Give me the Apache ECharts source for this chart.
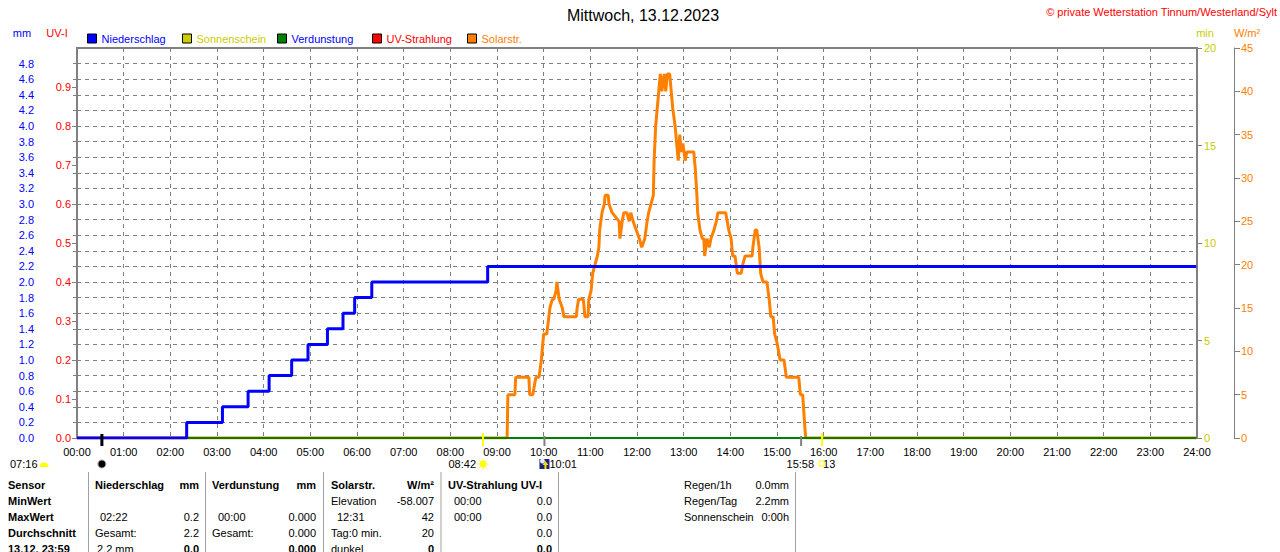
<!DOCTYPE html>
<html lang="de">
<head>
<meta charset="UTF-8">
<title>Wetterstation Tinnum - 13.12.2023</title>
<style>
  html, body { margin: 0; padding: 0; background: #fff; }
  #main { width: 1280px; height: 552px; }
</style>
</head>
<body>
<div id="main"></div>
<script src="https://cdn.jsdelivr.net/npm/echarts@6/dist/echarts.min.js"></script>
<script>
// Niederschlag (Summe, mm) - Zeitpunkte der Stufen
var rainTimes = ['00:00', '02:21', '03:07', '03:40', '04:07', '04:36', '04:57', '05:22', '05:42', '05:57', '06:19', '08:48', '23:59']
var rainValues = [0, 0.2, 0.4, 0.6, 0.8, 1.0, 1.2, 1.4, 1.6, 1.8, 2.0, 2.2, 2.2]

// Solarstrahlung W/m²
var solarTimes = [
  '00:00', '09:13', '09:14', '09:23', '09:24', '09:41', '09:42', '09:46', '09:48', '09:50',
  '09:54', '09:57', '10:00', '10:04', '10:08', '10:11', '10:13', '10:16', '10:17', '10:20',
  '10:24', '10:26', '10:42', '10:43', '10:45', '10:51', '10:53', '10:57', '10:58', '11:01',
  '11:03', '11:06', '11:09', '11:11', '11:12', '11:15', '11:18', '11:19', '11:23', '11:24',
  '11:28', '11:37', '11:38', '11:41', '11:43', '11:47', '11:50', '11:52', '11:55', '11:59',
  '12:03', '12:06', '12:10', '12:13', '12:15', '12:18', '12:21', '12:22', '12:24', '12:26',
  '12:28', '12:30', '12:32', '12:35', '12:37', '12:39', '12:42', '12:44', '12:46', '12:49',
  '12:51', '12:53', '12:55', '12:57', '12:59', '13:02', '13:04', '13:13', '13:15', '13:17',
  '13:18', '13:21', '13:24', '13:26', '13:27', '13:30', '13:33', '13:35', '13:39', '13:42',
  '13:44', '13:54', '13:56', '13:58', '14:01', '14:03', '14:06', '14:09', '14:11', '14:14',
  '14:16', '14:19', '14:28', '14:29', '14:32', '14:34', '14:37', '14:39', '14:42', '14:47',
  '14:50', '14:52', '14:55', '14:57', '15:00', '15:04', '15:09', '15:12', '15:28', '15:30',
  '15:33', '15:36', '15:37', '23:59'
]
var solarValues = [
  0, 0, 5, 5, 7, 7, 5, 5, 6, 7,
  7, 9, 12, 12, 15, 16, 16, 17, 18, 16,
  15, 14, 14, 15, 16, 16, 14, 14, 16, 17,
  19, 20, 21, 22, 24, 26, 27, 28, 28, 27,
  26, 25, 23, 25, 26, 26, 25, 26, 25, 24,
  23, 22, 23, 25, 26, 27, 28, 32, 36, 38,
  40, 42, 40, 42, 40, 42, 42, 40, 38, 36,
  34, 32, 35, 33, 34, 32, 33, 33, 31, 28,
  26, 24, 23, 23, 21, 23, 22, 23, 24, 25,
  26, 26, 25, 24, 23, 21, 21, 19, 19, 19,
  20, 21, 21, 22, 24, 24, 22, 19, 18, 18,
  16, 14, 14, 12, 11, 9, 9, 7, 7, 5,
  5, 1, 0, 0
]

// Verdunstung, UV, Sonnenschein: den ganzen Tag 0
var evapTimes = ['00:00', '23:59']
var evapValues = [0, 0]
var uvTimes = ['00:00', '23:59']
var uvValues = [0, 0]
var sunTimes = []
var sunValues = []

// Ereignisse unter der Zeitachse
var newMoonTime = '00:32'
var sunriseTime = '08:42'
var moonriseTime = '10:01'
var moonMarkTime = '15:31'
var sunsetTime = '15:58'
var moonsetText = '07:16'

var FONT = 'Liberation Sans, Arial, sans-serif'

function toMin(s) {
  var p = s.split(':')
  return +p[0] * 60 + +p[1]
}
function pairs(times, values) {
  return times.map(function (t, i) { return [toMin(t), values[i]] })
}
function hhmm(v) {
  var h = Math.floor(v / 60), m = v % 60
  return (h < 10 ? '0' : '') + h + ':' + (m < 10 ? '0' : '') + m
}

var chart = echarts.init(document.getElementById('main'), null, { renderer: 'svg' })

var legendDefs = [
  { name: 'Niederschlag', left: 87, color: '#0000ff', text: '#0000ff' },
  { name: 'Sonnenschein', left: 182, color: '#cccc00', text: '#cccc00' },
  { name: 'Verdunstung', left: 277, color: '#008000', text: '#0000ff' },
  { name: 'UV-Strahlung', left: 372, color: '#ff0000', text: '#ff0000' },
  { name: 'Solarstr.', left: 467, color: '#ff8000', text: '#ff8000' }
]

var gridLine = { color: '#808080', type: [4, 4], width: 1 }
var tickStyle = { color: '#808080', width: 1 }

var option = {
  animation: false,
  backgroundColor: '#fff',
  textStyle: { fontFamily: FONT },
  grid: {
    left: 77, right: 83, top: 48, bottom: 114,
    show: true, borderColor: '#808080', borderWidth: 2
  },
  legend: legendDefs.map(function (d) {
    return {
      left: d.left, top: 33, padding: 0,
      itemWidth: 9, itemHeight: 9,
      selectedMode: false, icon: 'rect',
      textStyle: { color: d.text, fontSize: 11, fontFamily: FONT },
      data: [{ name: d.name, itemStyle: { color: d.color, borderColor: '#000', borderWidth: 1 } }]
    }
  }),
  xAxis: {
    type: 'value', min: 0, max: 1440, interval: 60,
    axisLine: { show: false },
    axisTick: { show: false },
    axisLabel: { color: '#000', fontSize: 11, margin: 8, formatter: hhmm },
    splitLine: { show: true, lineStyle: gridLine }
  },
  yAxis: [
    { // mm
      type: 'value', position: 'left', offset: 37, min: 0, max: 5, interval: 0.2,
      axisLine: { show: true, lineStyle: tickStyle },
      axisTick: { show: true, length: 4, lineStyle: tickStyle },
      axisLabel: { color: '#0000ff', fontSize: 11, margin: 6, showMaxLabel: false,
        formatter: function (v) { return v.toFixed(1) } },
      splitLine: { show: true, lineStyle: gridLine }
    },
    { // UV-I
      type: 'value', position: 'left', offset: 0, min: 0, max: 1, interval: 0.1,
      axisLine: { show: false },
      axisTick: { show: true, length: 5, lineStyle: tickStyle },
      axisLabel: { color: '#ff0000', fontSize: 11, margin: 6, showMaxLabel: false,
        formatter: function (v) { return v.toFixed(1) } },
      splitLine: { show: false }
    },
    { // min
      type: 'value', position: 'right', offset: 0, min: 0, max: 20, interval: 5,
      axisLine: { show: false },
      axisTick: { show: true, length: 5, lineStyle: tickStyle },
      axisLabel: { color: '#cccc00', fontSize: 11, margin: 7 },
      splitLine: { show: false }
    },
    { // W/m²
      type: 'value', position: 'right', offset: 37, min: 0, max: 45, interval: 5,
      axisLine: { show: true, lineStyle: tickStyle },
      axisTick: { show: true, length: 6, lineStyle: tickStyle },
      axisLabel: { color: '#ff8000', fontSize: 11, margin: 7 },
      splitLine: { show: false }
    }
  ],
  series: [
    {
      name: 'Sonnenschein', type: 'bar', yAxisIndex: 2,
      data: pairs(sunTimes, sunValues),
      itemStyle: { color: '#cccc00' }
    },
    {
      name: 'UV-Strahlung', type: 'line', yAxisIndex: 1, symbol: 'none', z: 2,
      data: pairs(uvTimes, uvValues),
      itemStyle: { color: '#ff0000' },
      lineStyle: { color: '#ff0000', width: 2 }
    },
    {
      name: 'Solarstr.', type: 'line', yAxisIndex: 3, symbol: 'none', z: 2,
      data: pairs(solarTimes, solarValues),
      itemStyle: { color: '#ff8000' },
      lineStyle: { color: '#ff8000', width: 3 }
    },
    {
      name: 'Verdunstung', type: 'line', yAxisIndex: 0, symbol: 'none', z: 3,
      data: pairs(evapTimes, evapValues),
      itemStyle: { color: '#008000' },
      lineStyle: { color: '#008000', width: 2 }
    },
    {
      name: 'Niederschlag', type: 'line', step: 'end', yAxisIndex: 0, symbol: 'none', z: 4,
      data: pairs(rainTimes, rainValues),
      itemStyle: { color: '#0000ff' },
      lineStyle: { color: '#0000ff', width: 3 }
    }
  ]
}

chart.setOption(option)

// --- Texte, Tabelle und Markierungen ---
function txt(text, x, y, color, o) {
  o = o || {}
  return {
    type: 'text', x: x, y: y, silent: true, z: 10,
    style: {
      text: text, fill: color || '#000',
      font: (o.bold ? 'bold ' : '') + (o.size || 11) + 'px ' + FONT,
      align: o.align || 'left', textAlign: o.align || 'left',
      verticalAlign: 'middle', textVerticalAlign: 'middle'
    }
  }
}
function vline(x, y1, y2, color, w) {
  return {
    type: 'line', silent: true, z: 10,
    shape: { x1: x, y1: y1, x2: x, y2: y2 },
    style: { stroke: color, lineWidth: w }
  }
}
function px(t) {
  return chart.convertToPixel({ xAxisIndex: 0 }, toMin(t))
}

var g = []
g.push(txt('Mittwoch, 13.12.2023', 643, 15, '#000', { size: 16, align: 'center' }))
g.push(txt('© private Wetterstation Tinnum/Westerland/Sylt', 1277, 12, '#ff0000', { align: 'right' }))
g.push(txt('mm', 22, 33, '#0000ff', { align: 'center' }))
g.push(txt('UV-I', 57, 33, '#ff0000', { align: 'center' }))
g.push(txt('min', 1205, 33, '#cccc00', { align: 'center' }))
g.push(txt('W/m²', 1247, 33, '#ff8000', { align: 'center' }))

// Markierungen an der Zeitachse
var xMoon = px(newMoonTime), xRise = px(sunriseTime), xMoonR = px(moonriseTime)
var xMark = px(moonMarkTime), xSet = px(sunsetTime)
g.push(vline(xMoon, 434, 446, '#000', 3))
g.push(vline(xRise, 433, 446, '#ffff00', 2))
g.push(vline(xMoonR, 436, 446, '#808080', 2))
g.push(vline(xMark, 436, 446, '#808080', 2))
g.push(vline(xSet, 433, 446, '#ffff00', 2))

// Symbole unter der Achse
g.push(txt(moonsetText, 10, 464, '#000'))
g.push({ type: 'sector', silent: true, z: 10,
  shape: { cx: 44, cy: 467, r: 4.5, startAngle: Math.PI, endAngle: 2 * Math.PI },
  style: { fill: '#ffff00' } })
g.push({ type: 'circle', silent: true, z: 10,
  shape: { cx: xMoon, cy: 464, r: 4 },
  style: { fill: '#000', stroke: '#a0a0a0', lineWidth: 1 } })

g.push(txt(sunriseTime, xRise - 7, 464, '#000', { align: 'right' }))
;[0, 1, 2, 3].forEach(function (k) {
  var a = k * Math.PI / 4
  g.push({ type: 'line', silent: true, z: 10,
    shape: { x1: xRise - 6 * Math.cos(a), y1: 464 - 6 * Math.sin(a), x2: xRise + 6 * Math.cos(a), y2: 464 + 6 * Math.sin(a) },
    style: { stroke: '#ffee66', lineWidth: 1 } })
})
g.push({ type: 'circle', silent: true, z: 11, shape: { cx: xRise, cy: 464, r: 3.5 }, style: { fill: '#ffff00' } })

g.push({ type: 'rect', silent: true, z: 10,
  shape: { x: xMoonR - 5, y: 459, width: 10, height: 10 }, style: { fill: '#1a237e' } })
g.push({ type: 'circle', silent: true, z: 11, shape: { cx: xMoonR - 2, cy: 461, r: 2.5 }, style: { fill: '#e8e8ff' } })
g.push({ type: 'polygon', silent: true, z: 11,
  shape: { points: [[xMoonR + 1, 461], [xMoonR + 4, 465], [xMoonR + 2, 465], [xMoonR + 2, 469], [xMoonR, 469], [xMoonR, 465], [xMoonR - 2, 465]] },
  style: { fill: '#ffdd00' } })
g.push(txt(moonriseTime, xMoonR + 5, 464, '#000'))

g.push(txt(sunsetTime, xSet - 8, 464, '#000', { align: 'right' }))
g.push(txt('13', xSet + 1, 464, '#000'))
g.push({ type: 'rect', silent: true, z: 11,
  shape: { x: xSet - 3, y: 461, width: 5, height: 5 }, style: { fill: '#fff', stroke: '#ffff00', lineWidth: 1 } })

// Tabelle
var rowY = [485, 501, 517, 533, 549]
var rowHead = ['Sensor', 'MinWert', 'MaxWert', 'Durchschnitt', '13.12. 23:59']
rowHead.forEach(function (t, i) { g.push(txt(t, 8, rowY[i], '#000', { bold: true })) })

var cells = [
  // [text, x, row, align, bold]
  ['Niederschlag', 95, 0, 'left', true], ['mm', 199, 0, 'right', true],
  ['02:22', 100, 2, 'left'], ['0.2', 199, 2, 'right'],
  ['Gesamt:', 95, 3, 'left'], ['2.2', 199, 3, 'right'],
  ['2.2 mm', 97, 4, 'left'], ['0.0', 199, 4, 'right', true],

  ['Verdunstung', 212, 0, 'left', true], ['mm', 316, 0, 'right', true],
  ['00:00', 218, 2, 'left'], ['0.000', 316, 2, 'right'],
  ['Gesamt:', 212, 3, 'left'], ['0.000', 316, 3, 'right'],
  ['0.000', 316, 4, 'right', true],

  ['Solarstr.', 331, 0, 'left', true], ['W/m²', 434, 0, 'right', true],
  ['Elevation', 331, 1, 'left'], ['-58.007', 434, 1, 'right'],
  ['12:31', 337, 2, 'left'], ['42', 434, 2, 'right'],
  ['Tag:0 min.', 331, 3, 'left'], ['20', 434, 3, 'right'],
  ['dunkel', 331, 4, 'left'], ['0', 434, 4, 'right', true],

  ['UV-Strahlung UV-I', 448, 0, 'left', true],
  ['00:00', 454, 1, 'left'], ['0.0', 552, 1, 'right'],
  ['00:00', 454, 2, 'left'], ['0.0', 552, 2, 'right'],
  ['0.0', 552, 3, 'right'],
  ['0.0', 552, 4, 'right', true],

  ['Regen/1h', 684, 0, 'left'], ['0.0mm', 789, 0, 'right'],
  ['Regen/Tag', 684, 1, 'left'], ['2.2mm', 789, 1, 'right'],
  ['Sonnenschein', 684, 2, 'left'], ['0:00h', 789, 2, 'right']
]
cells.forEach(function (c) {
  g.push(txt(c[0], c[1], rowY[c[2]], '#000', { align: c[3], bold: !!c[4] }))
})
;[88.5, 205.5, 323.5, 441, 558.5, 795.5].forEach(function (x) {
  g.push(vline(x, 472, 552, '#a0a0a0', 1))
})

chart.setOption({ graphic: g })
</script>
</body>
</html>
